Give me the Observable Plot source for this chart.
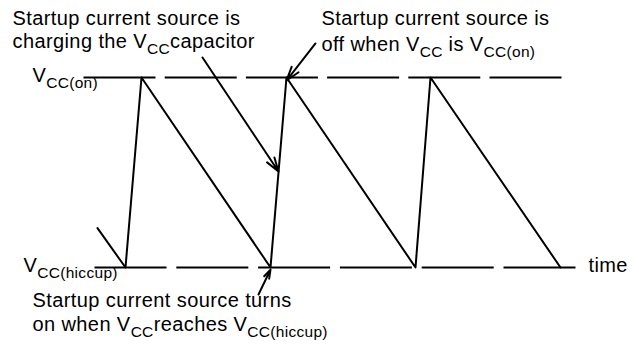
<!DOCTYPE html>
<html><head><meta charset="utf-8">
<script src="https://cdn.jsdelivr.net/npm/d3@7"></script>
<script src="https://cdn.jsdelivr.net/npm/@observablehq/plot@0.6"></script>
<style>body{margin:0;background:#fff}</style>
</head><body><div id="chart"></div>
<script>
// Voltage levels (normalised: hiccup = 0, on = 1)
const levelNames = ["V_{CC(on)}", "V_{CC(hiccup)}"];
const levelValues = [1, 0];
const levelStart = [83, 94];
const levelEnd = [561, 575];

// Sawtooth of VCC versus time (time in arbitrary units)
const sawTime = [97, 125, 141, 270, 286, 415, 430, 560];
const sawVcc = [0.207, 0, 1, 0, 1, 0, 1, 0];

// Annotation arrows (from text to waveform)
const arrowX1 = [202, 315, 258];
const arrowY1 = [1.105, 1.179, -0.142];
const arrowX2 = [278, 286, 270];
const arrowY2 = [0.505, 0.984, -0.011];

// Annotation texts
const labelText = [
  "Startup current source is",
  "charging the V_{CC}capacitor",
  "Startup current source is",
  "off when V_{CC} is V_{CC(on)}",
  "Startup current source turns",
  "on when V_{CC}reaches V_{CC(hiccup)}",
  "V_{CC(on)}",
  "V_{CC(hiccup)}",
  "time"
];
const labelX = [12, 12, 321, 321, 32, 32, 32, 23, 588];
const labelY = [1.2737, 1.153, 1.274, 1.137, -0.2105, -0.3316, 0.974, -0.026, -0.026];

const saw = sawTime.map((t, i) => ({t, v: sawVcc[i]}));
const levels = levelNames.map((n, i) => ({name: n, v: levelValues[i], x1: levelStart[i], x2: levelEnd[i]}));
const arrows = arrowX1.map((x, i) => ({x1: x, y1: arrowY1[i], x2: arrowX2[i], y2: arrowY2[i]}));
const labels = labelText.map((s, i) => ({s, x: labelX[i], y: labelY[i]}));

const svg = Plot.plot({
  width: 639, height: 347,
  marginTop: 0, marginRight: 0, marginBottom: 0, marginLeft: 0,
  x: {domain: [0, 639], range: [0, 639], axis: null},
  y: {domain: [0, 1], range: [267, 77], axis: null},
  style: {fontFamily: "'Liberation Sans', Arial, Helvetica, sans-serif", fontSize: "20px", letterSpacing: "0.4px", background: "#fff", color: "#000"},
  marks: [
    Plot.link(levels.filter(d => d.v === 1), {x1: "x1", x2: "x2", y1: "v", y2: "v", stroke: "#000", strokeWidth: 2.2, strokeDasharray: "72,9.2"}),
    Plot.link(levels.filter(d => d.v === 0), {x1: "x1", x2: "x2", y1: "v", y2: "v", stroke: "#000", strokeWidth: 2.2, strokeDasharray: "72,9.8"}),
    Plot.line(saw, {x: "t", y: "v", stroke: "#000", strokeWidth: 2}),
    Plot.arrow(arrows, {x1: "x1", y1: "y1", x2: "x2", y2: "y2", stroke: "#000", strokeWidth: 2, headLength: 11, headAngle: 35}),
    Plot.text(labels, {x: "x", y: "y", text: "s", textAnchor: "start", lineAnchor: "bottom", fontSize: 20, fill: "#000"})
  ]
});

// Render V_{..} markup as real subscripts
const NS = "http://www.w3.org/2000/svg";
svg.querySelectorAll("text").forEach(t => {
  const s = t.textContent;
  if (!s.includes("_{")) return;
  t.textContent = "";
  let shifted = false;
  for (const p of s.split(/(_\{[^}]*\})/)) {
    if (!p) continue;
    const ts = document.createElementNS(NS, "tspan");
    if (p.startsWith("_{")) {
      ts.textContent = p.slice(2, -1);
      ts.setAttribute("dy", "6");
      ts.setAttribute("font-size", "15.5");
      ts.setAttribute("letter-spacing", "0.3px");
      shifted = true;
    } else {
      ts.textContent = p;
      if (shifted) { ts.setAttribute("dy", "-6"); shifted = false; }
    }
    t.appendChild(ts);
  }
});
document.getElementById("chart").appendChild(svg);
</script>
</body></html>
